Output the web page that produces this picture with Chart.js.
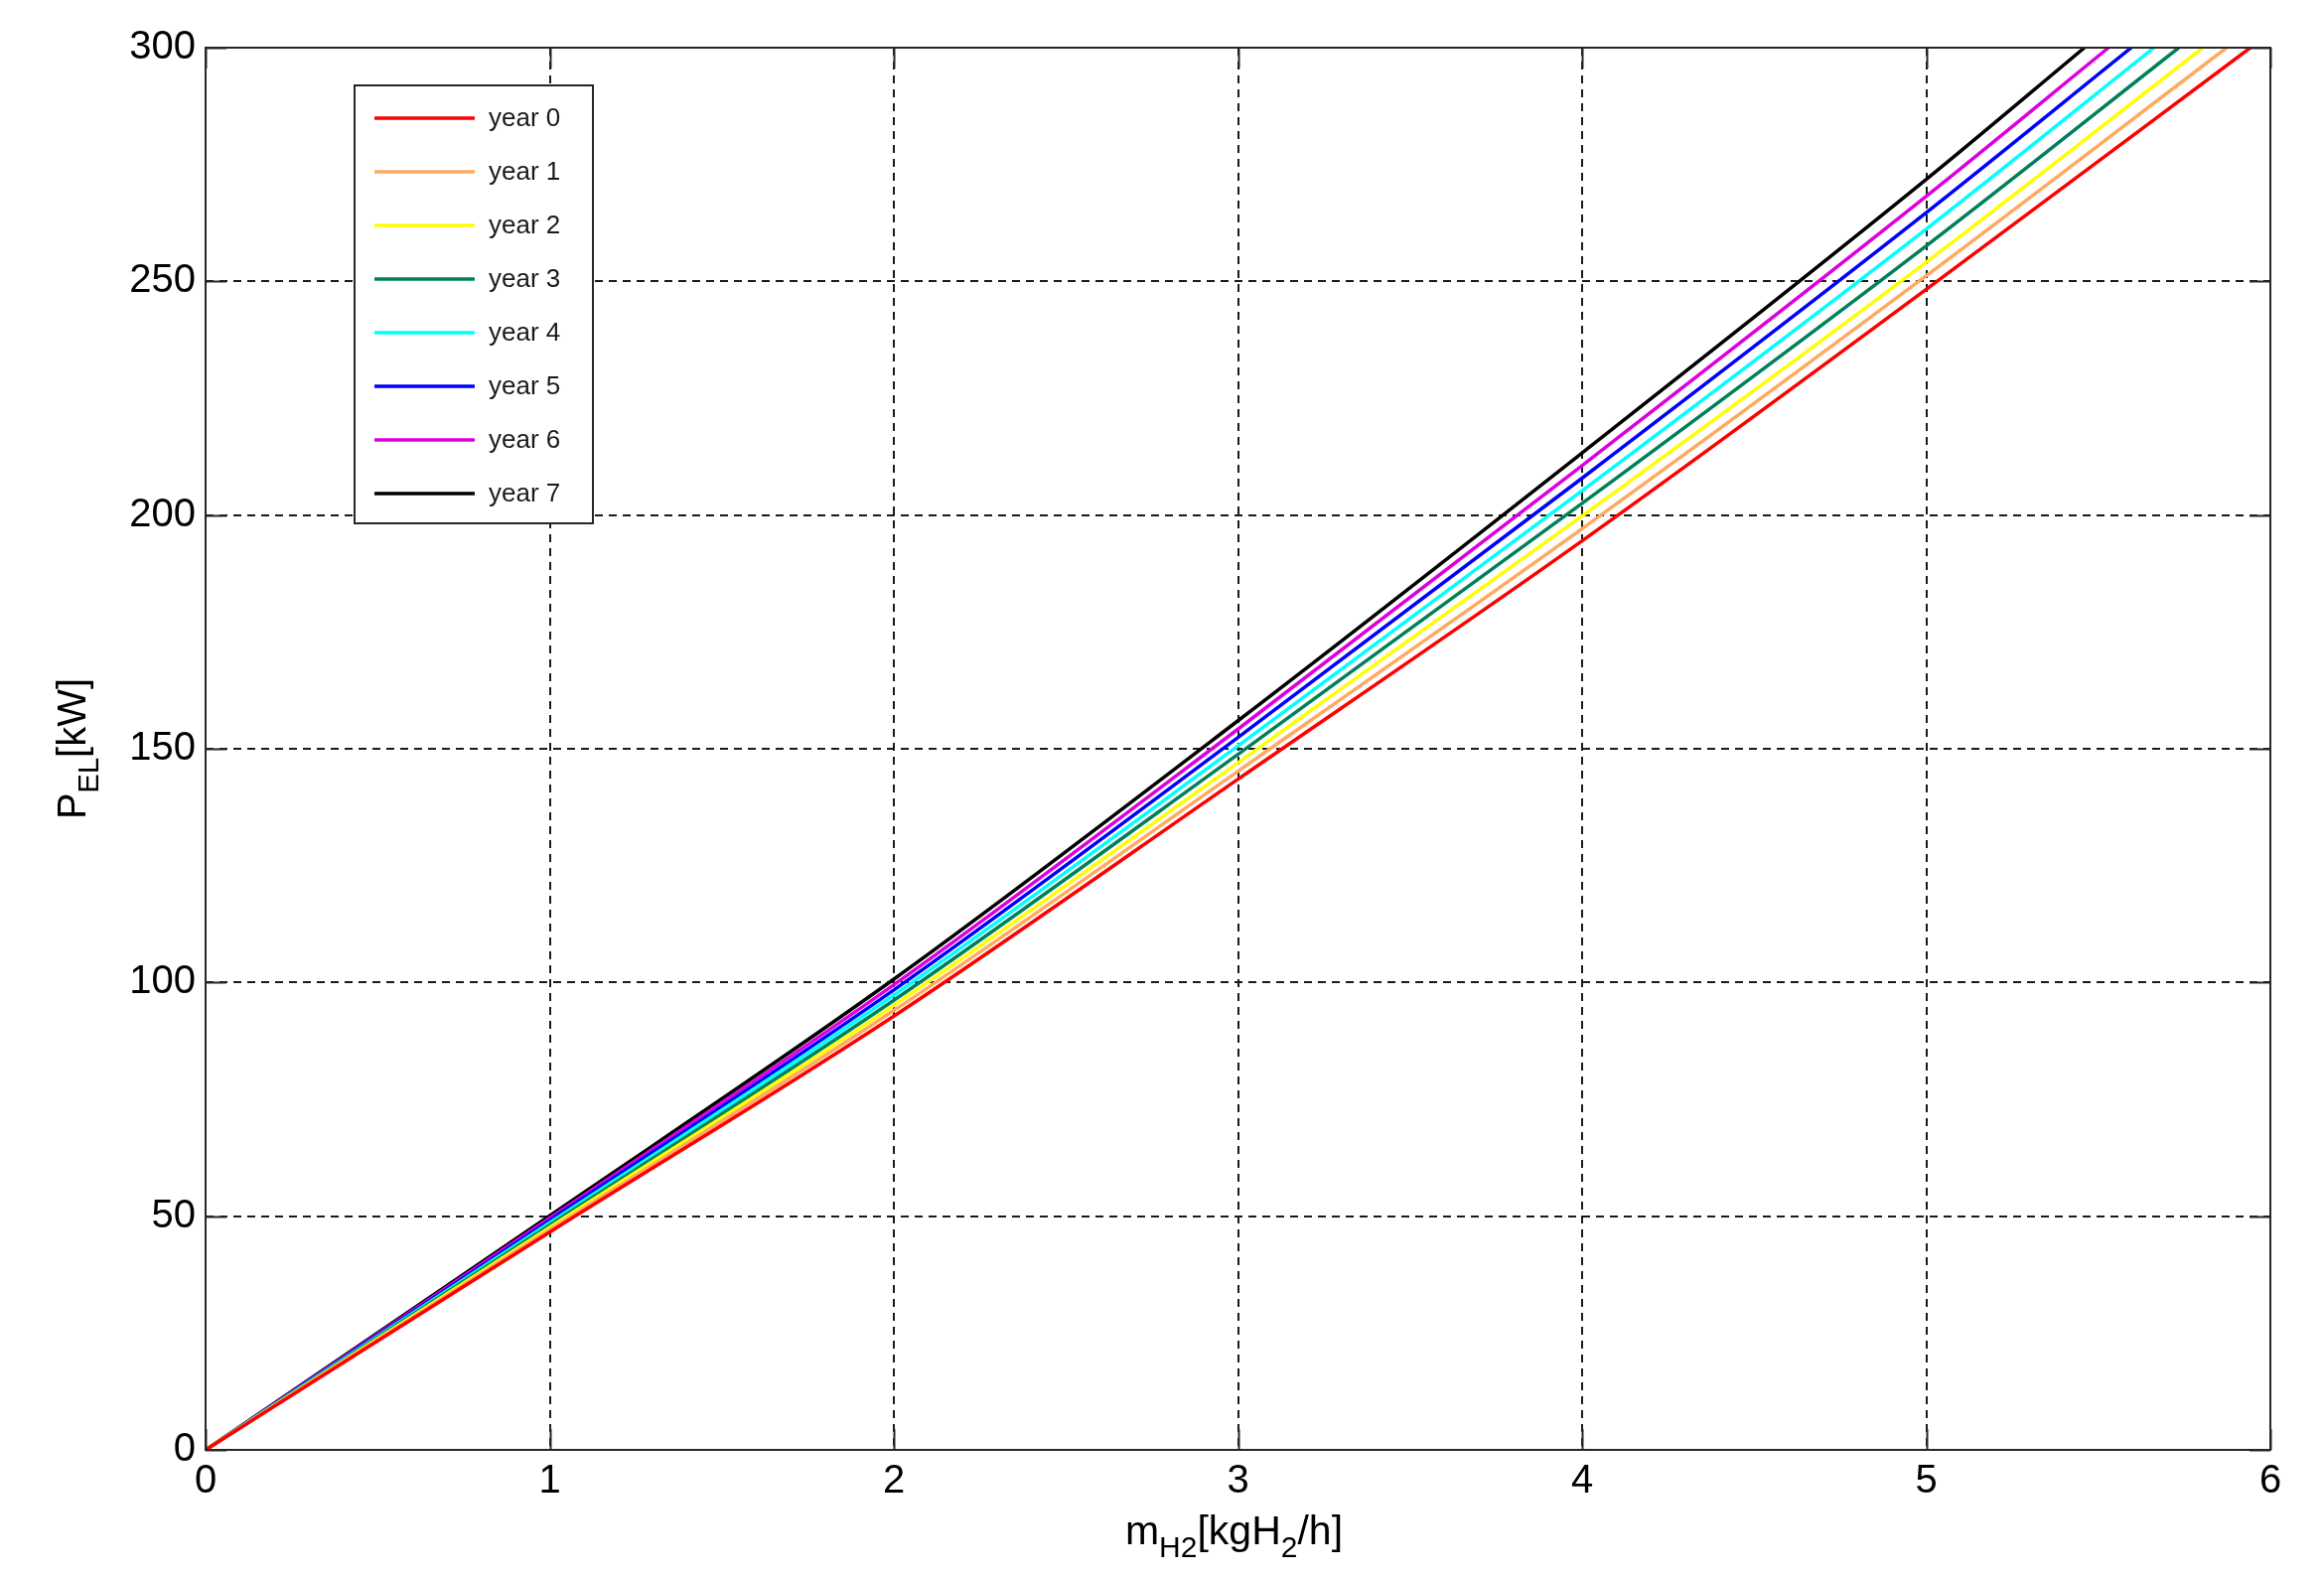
<!DOCTYPE html>
<html><head><meta charset="utf-8">
<script src="https://cdn.jsdelivr.net/npm/chart.js@4/dist/chart.umd.min.js"></script>
<style>html,body{margin:0;padding:0;background:#fff;overflow:hidden}#wrap{position:relative;width:2340px;height:1587px}</style>
</head><body><div id="wrap"><canvas id="c" width="2340" height="1587"></canvas></div>
<script>
// ---- data ----
const X_POINTS = [0, 1, 2, 3, 4, 5];
const SERIES_LABELS = ['year 0','year 1','year 2','year 3','year 4','year 5','year 6','year 7'];
const year0 = [0, 46.6, 92.8, 143.5, 194.5, 248.3];
const year1 = [0, 47.1, 94.0, 145.2, 197.1, 251.2];
const year2 = [0, 47.6, 95.1, 147.0, 199.8, 254.1];
const year3 = [0, 48.1, 96.2, 148.8, 202.5, 257.6];
const year4 = [0, 48.6, 97.3, 150.6, 205.2, 261.2];
const year5 = [0, 49.1, 98.4, 152.4, 207.9, 264.7];
const year6 = [0, 49.6, 99.5, 154.2, 210.6, 268.2];
const year7 = [0, 50.1, 100.7, 156.0, 213.3, 271.8];
const END_X = [5.942, 5.873, 5.804, 5.734, 5.662, 5.596, 5.530, 5.460]; // where each curve reaches 300 kW
const END_Y = [300, 300, 300, 300, 300, 300, 300, 300];
const X_TICKS = [0, 1, 2, 3, 4, 5, 6];
const Y_TICKS = [0, 50, 100, 150, 200, 250, 300];
const COLORS = ['#ff0000','#ffaa5f','#ffff00','#00805a','#00ffff','#0000ff','#dd00dd','#000000'];

const SERIES = [year0, year1, year2, year3, year4, year5, year6, year7];

const datasets = SERIES.map((vals, i) => {
  const pts = X_POINTS.map((x, j) => ({x: x, y: vals[j]}));
  pts.push({x: END_X[i], y: END_Y[i]});
  return {
    label: SERIES_LABELS[i],
    data: pts,
    borderColor: COLORS[i],
    backgroundColor: COLORS[i],
    borderWidth: 3.5,
    pointRadius: 0,
    showLine: true,
    fill: false,
    cubicInterpolationMode: 'monotone'
  };
});

const FONT = "'Liberation Sans', Arial, Helvetica, sans-serif";

const framePlugin = {
  id: 'frame',
  afterDatasetsDraw(chart) {
    const {ctx, chartArea: a, scales} = chart;
    ctx.save();
    ctx.strokeStyle = '#262626';
    ctx.lineWidth = 2;
    ctx.setLineDash([]);
    ctx.strokeRect(a.left, a.top, a.right - a.left, a.bottom - a.top);
    const TL = 21;
    ctx.beginPath();
    X_TICKS.forEach(v => {
      const px = Math.round(scales.x.getPixelForValue(v)) + 0.5;
      ctx.moveTo(px, a.bottom); ctx.lineTo(px, a.bottom - TL);
      ctx.moveTo(px, a.top); ctx.lineTo(px, a.top + TL);
    });
    Y_TICKS.forEach(v => {
      const py = Math.round(scales.y.getPixelForValue(v)) + 0.5;
      ctx.moveTo(a.left, py); ctx.lineTo(a.left + TL, py);
      ctx.moveTo(a.right, py); ctx.lineTo(a.right - TL, py);
    });
    ctx.stroke();
    ctx.restore();
  }
};

const legendPlugin = {
  id: 'boxLegend',
  afterDraw(chart) {
    const {ctx} = chart;
    const bx = 357, by = 86, bw = 240, bh = 441;
    ctx.save();
    ctx.fillStyle = '#fff';
    ctx.fillRect(bx, by, bw, bh);
    ctx.strokeStyle = '#262626';
    ctx.lineWidth = 2;
    ctx.strokeRect(bx, by, bw, bh);
    ctx.font = '26px ' + FONT;
    ctx.textBaseline = 'middle';
    ctx.textAlign = 'left';
    chart.data.datasets.forEach((ds, i) => {
      const y = 119 + i * 54;
      ctx.strokeStyle = ds.borderColor;
      ctx.lineWidth = 3.5;
      ctx.beginPath();
      ctx.moveTo(377, y); ctx.lineTo(478, y);
      ctx.stroke();
      ctx.fillStyle = '#1a1a1a';
      ctx.fillText(ds.label, 492, y + 1);
    });
    ctx.restore();
  }
};

function drawParts(ctx, parts, cx, cy) {
  let total = 0;
  parts.forEach(p => { ctx.font = p[1] + 'px ' + FONT; total += ctx.measureText(p[0]).width; });
  let x = cx - total / 2;
  parts.forEach(p => {
    ctx.font = p[1] + 'px ' + FONT;
    ctx.fillText(p[0], x, cy + p[2]);
    x += ctx.measureText(p[0]).width;
  });
}

const titlePlugin = {
  id: 'titles',
  afterDraw(chart) {
    const {ctx, chartArea: a} = chart;
    ctx.save();
    ctx.fillStyle = '#000';
    ctx.textBaseline = 'alphabetic';
    ctx.textAlign = 'left';
    drawParts(ctx, [['m', 41, 0], ['H2', 30, 13], ['[kgH', 41, 0], ['2', 30, 13], ['/h]', 41, 0]],
      (a.left + a.right) / 2 - 4, 1555);
    ctx.translate(86, (a.top + a.bottom) / 2);
    ctx.rotate(-Math.PI / 2);
    drawParts(ctx, [['P', 40, 0], ['EL', 29, 13], ['[kW]', 40, 0]], 0, 0);
    ctx.restore();
  }
};

new Chart(document.getElementById('c'), {
  type: 'scatter',
  data: {datasets},
  options: {
    responsive: false,
    animation: false,
    devicePixelRatio: 1,
    layout: {padding: {top: 48, right: 54, left: 0, bottom: 0}},
    plugins: {legend: {display: false}, tooltip: {enabled: false}},
    scales: {
      x: {
        type: 'linear', min: 0, max: 6,
        afterBuildTicks(s) { s.ticks = X_TICKS.map(v => ({value: v})); },
        afterFit(s) { s.height = 127; },
        ticks: {font: {family: FONT, size: 40}, color: '#000', padding: 8},
        grid: {color: '#1a1a1a', lineWidth: 2, drawTicks: false},
        border: {display: false, dash: [8, 6]}
      },
      y: {
        type: 'linear', min: 0, max: 300,
        afterBuildTicks(s) { s.ticks = Y_TICKS.map(v => ({value: v})); },
        afterFit(s) { s.width = 207; },
        ticks: {font: {family: FONT, size: 40}, color: '#000', padding: 10},
        grid: {color: '#1a1a1a', lineWidth: 2, drawTicks: false},
        border: {display: false, dash: [8, 6]}
      }
    }
  },
  plugins: [framePlugin, legendPlugin, titlePlugin]
});
</script></body></html>
